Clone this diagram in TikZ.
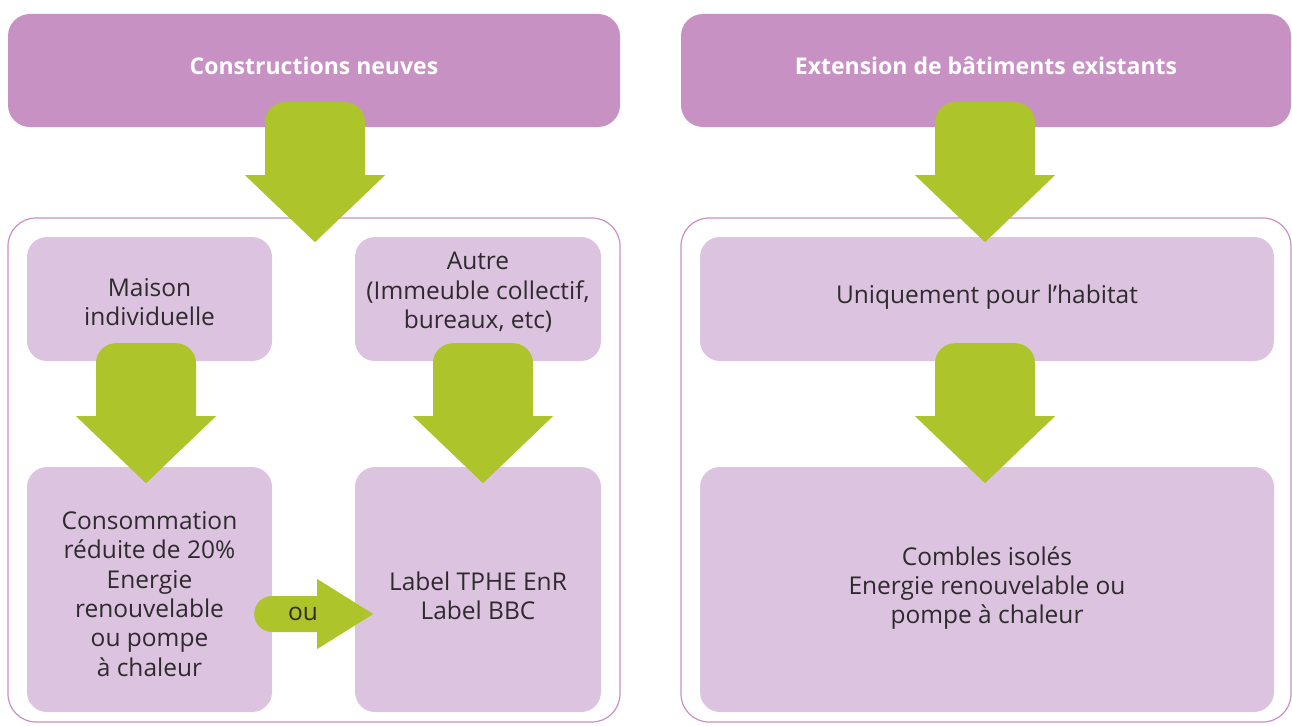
\documentclass[tikz,border=0pt]{standalone}
\usepackage{fontspec}
\setmainfont{Open Sans}
\definecolor{hdrpurple}{HTML}{C891C3}
\definecolor{boxlilac}{HTML}{DCC3DF}
\definecolor{framepurple}{HTML}{C98FC4}
\definecolor{arrowgreen}{HTML}{ADC42B}
\definecolor{txtdark}{HTML}{2E2A2E}
\tikzset{
  header/.style={rectangle, rounded corners=22pt, fill=hdrpurple, inner sep=0pt},
  headtext/.style={inner sep=0pt, text=white, font=\fontsize{23}{27}\selectfont\bfseries},
  frame/.style={rectangle, rounded corners=28pt, draw=framepurple, line width=1.2pt, inner sep=0pt},
  infobox/.style={rectangle, rounded corners=20pt, fill=boxlilac, inner sep=0pt},
  label/.style={align=center, text=txtdark, inner sep=0pt,
    font=\fontsize{24.5}{29.4}\selectfont},
  % fat downward arrow: origin at the middle of the top edge of the shaft
  downarrow/.pic={
    \fill[arrowgreen] (-50,73) -- (-50,20) arc(180:270:20) -- (30,0) arc(270:360:20)
      -- (50,73) -- (70,73) -- (0,140) -- (-70,73) -- cycle;
  },
  % fat rightward arrow: origin at the middle of the rounded tail
  rightarrow/.pic={
    \fill[arrowgreen] (63,-18) -- (18,-18) arc(270:90:18) -- (63,18)
      -- (63,35) -- (119,0) -- (63,-35) -- cycle;
  }
}
\begin{document}
\begin{tikzpicture}[x=1pt,y=-1pt]
\useasboundingbox (0,0) rectangle (1292,725);

% ---- left column: new buildings
\node[frame, minimum width=612pt, minimum height=504pt] (frameL) at (314,470) {};
\node[header, minimum width=612pt, minimum height=113pt] (hdrL) at (314,70.5) {};
\node[headtext] (thdrL) at (314,66) {Constructions neuves};
\node[infobox, minimum width=245pt, minimum height=124pt] (maison) at (149.5,299) {};
\node[infobox, minimum width=246pt, minimum height=124pt] (autre) at (478,299) {};
\node[infobox, minimum width=245pt, minimum height=245pt] (conso) at (149.5,589.5) {};
\node[infobox, minimum width=246pt, minimum height=245pt] (lbl) at (478,589.5) {};

\node[label] (tmaison) at (149.5,302) {Maison\\individuelle};
\node[label] (tautre) at (478,292.5) {Autre\\(Immeuble collectif,\\bureaux, etc)};
\node[label] (tconso) at (149.5,594) {Consommation\\réduite de 20\%\\Energie\\renouvelable\\ou pompe\\à chaleur};
\node[label] (tlbl) at (478,596) {Label TPHE EnR\\Label BBC};

% ---- right column: extensions
\node[frame, minimum width=610pt, minimum height=504pt] (frameR) at (986,470) {};
\node[header, minimum width=610pt, minimum height=113pt] (hdrR) at (986,70.5) {};
\node[headtext] (thdrR) at (986,66) {Extension de bâtiments existants};
\node[infobox, minimum width=574pt, minimum height=124pt] (uniq) at (987,299) {};
\node[infobox, minimum width=574pt, minimum height=245pt] (comb) at (987,589.5) {};

\node[label] (tuniq) at (987,297) {Uniquement pour l’habitat};
\node[label] (tcomb) at (987,588) {Combles isolés\\Energie renouvelable ou\\pompe à chaleur};

% ---- green arrows
\path (hdrL.south) ++(1,-25) pic {downarrow};
\path (maison.south) ++(-3.5,-18) pic {downarrow};
\path (autre.south) ++(5,-18) pic {downarrow};
\path (hdrR.south) ++(-1,-25) pic {downarrow};
\path (uniq.south) ++(-2,-18) pic {downarrow};

% horizontal "ou" arrow from the left lower box into the right one
\path (conso.east) ++(-18,24.5) pic {rightarrow};
\node[label] (tou) at (303,614) {ou};
\end{tikzpicture}
\end{document}
